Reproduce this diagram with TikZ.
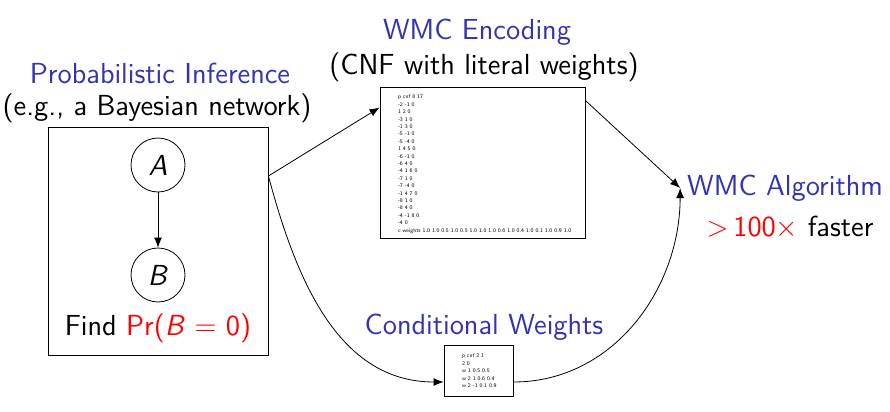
\documentclass[tikz,border=0pt]{standalone}
\usepackage{amsmath}
\usetikzlibrary{positioning,arrows.meta}
\definecolor{titleblue}{RGB}{51,51,179}

\begin{document}
\begin{tikzpicture}[x=5pt,y=5pt,font=\sffamily\fontsize{14.5}{17}\selectfont,
  title/.style={text=titleblue},
  var/.style={draw,circle,minimum size=27pt,inner sep=0pt},
  arr/.style={-{Latex[length=5pt,width=4pt]}},
  cnf/.style={font=\sffamily\fontsize{2.75}{3.7}\selectfont,align=left,inner sep=0pt}]
\useasboundingbox (0,0) rectangle (89,-41.2);
% bayesian network
\node [draw,minimum width=110pt,minimum height=114pt] (bn) at (15.8,-24.1) {};
\node [var] (A) at (15.8,-16.5) {\textit{A}};
\node [var] (B) at (15.8,-27.5) {\textit{B}};
\draw [arr] (A) -- (B);
\node (find) at (15.8,-32.8) {Find \textcolor{red}{Pr(\textit{B} $=$ 0)}};
\node (eg) at (15.7,-10.8) {(e.g., a Bayesian network)};
\node [title] (inf) at (16.0,-7.3) {Probabilistic Inference};
% wmc encoding
\node [draw,minimum width=102.5pt,minimum height=75.5pt] (enc) at (48.25,-16.25) {};
\node [cnf,below right=4pt and 9pt of enc.north west] (enctext) {p cnf 8 17\\ -2 -1 0\\ 1 2 0\\ -3 1 0\\ -1 3 0\\ -5 -1 0\\ -5 -4 0\\ 1 4 5 0\\ -6 -1 0\\ -6 4 0\\ -4 1 6 0\\ -7 1 0\\ -7 -4 0\\ -1 4 7 0\\ -8 1 0\\ -8 4 0\\ -4 -1 8 0\\ -4 0\\ c weights 1.0 1.0 0.5 1.0 0.5 1.0 1.0 1.0 0.6 1.0 0.4 1.0 0.1 1.0 0.9 1.0};
\node (cnfnote) at (48.4,-6.7) {(CNF with literal weights)};
\node [title] (enctitle) at (47.7,-3.2) {WMC Encoding};
% conditional weights
\node [draw,minimum width=34.5pt,minimum height=25.5pt] (cw) at (47.85,-37.05) {};
\node [cnf,below right=4.5pt and 9pt of cw.north west] (cwtext) {p cnf 2 1\\ 2 0\\ w 1 0.5 0.5\\ w 2 1 0.6 0.4\\ w 2 -1 0.1 0.9};
\node [title] (cwtitle) at (48.4,-32.7) {Conditional Weights};
% wmc algorithm
\node [title] (alg) at (78.5,-18.8) {WMC Algorithm};
\node (speed) at (79.0,-22.7) {\textcolor{red}{$>$\,100$\times$} faster};
% connectors
\coordinate (bnout) at ([yshift=32.5pt]bn.east);
\coordinate (encin) at ([yshift=27.5pt]enc.west);
\coordinate (encout) at ([yshift=31pt]enc.east);
\coordinate (cwin) at ([yshift=-5.75pt]cw.west);
\coordinate (cwout) at ([yshift=-5.75pt]cw.east);
\draw [arr] (bnout) -- (encin);
\draw [arr] (encout) -- (alg.west);
\draw [arr] (bnout) to [out=-75,in=180] (cwin);
\draw [arr] (cwout) to [out=0,in=-90] (alg.west);
\end{tikzpicture}
\end{document}
